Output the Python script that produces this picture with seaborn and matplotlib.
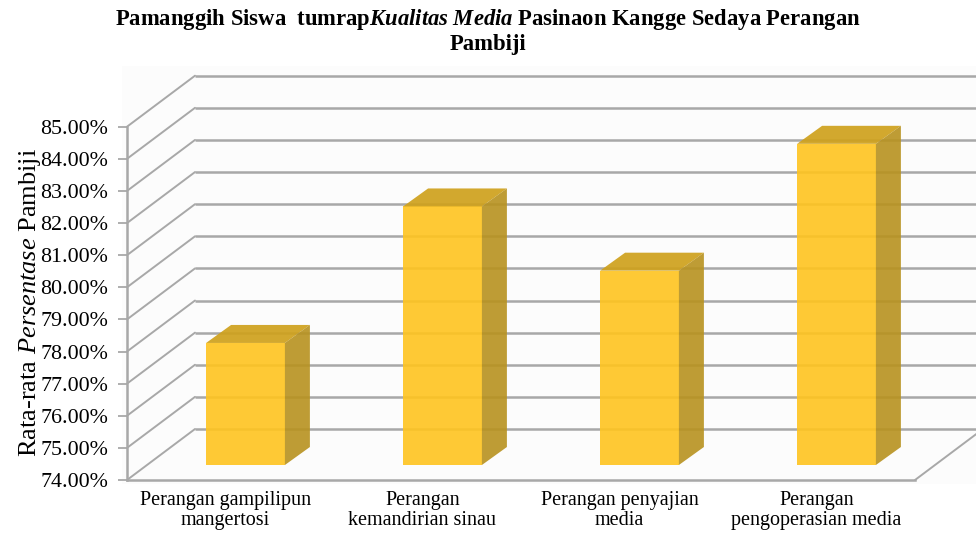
import matplotlib
matplotlib.use("Agg")
import matplotlib.pyplot as plt
import matplotlib.transforms as mtrans
from matplotlib.patches import Polygon, Rectangle
import numpy as np
import pandas as pd
import seaborn as sns

# data
categories = [
    "Perangan gampilipun\nmangertosi",
    "Perangan\nkemandirian sinau",
    "Perangan penyajian\nmedia",
    "Perangan\npengoperasian media",
]
scores = [77.8, 82.05, 80.05, 84.0]
y_ticks = list(range(74, 86))
y_tick_labels = [f"{t:.2f}%" for t in y_ticks]

FRONT = "#FFC41F"
TOP = "#CFA11C"
SIDE = "#B8921F"
GRID = "#A8A8A8"

# fake depth offsets in pixels (dpi 100, so dots == px)
WALL_DX, WALL_DY = 68, 51     # back wall relative to the front axis
BAR_DX, BAR_DY = 20, 15       # front face of the bars
DEPTH_DX, DEPTH_DY = 25, 18   # bar depth

sns.set_theme(style="white")
plt.rcParams["font.family"] = ["Liberation Serif", "DejaVu Serif"]
plt.rcParams["text.color"] = "black"
plt.rcParams["mathtext.fontset"] = "custom"
plt.rcParams["mathtext.rm"] = "Liberation Serif"
plt.rcParams["mathtext.it"] = "Liberation Serif:italic"
plt.rcParams["mathtext.bf"] = "Liberation Serif:bold"
plt.rcParams["mathtext.bfit"] = "Liberation Serif:italic:bold"

fig = plt.figure(figsize=(9.76, 5.34), dpi=100)
ax = fig.add_axes([127 / 976, 54 / 534, 788 / 976, 353.3 / 534])

df = pd.DataFrame({"category": categories, "score": scores})
sns.barplot(data=df, x="category", y="score", color=FRONT, width=0.4,
            saturation=1, ax=ax, zorder=3)
ax.set_xlim(-0.5, 3.5)
ax.set_ylim(74, 85)

wall_tr = ax.transData + mtrans.Affine2D().translate(WALL_DX, WALL_DY)
bar_tr = ax.transData + mtrans.Affine2D().translate(BAR_DX, BAR_DY)
ident = mtrans.IdentityTransform()
ymin = ax.get_ylim()[0]

# faint plot-area fill behind everything
ax.patch.set_visible(False)
ax.add_patch(Rectangle((122 / 976, 50 / 534), 854 / 976, 418 / 534,
                       transform=fig.transFigure, facecolor="#FCFCFC",
                       edgecolor="none", zorder=0, clip_on=False))

# back wall gridlines + diagonals on the side wall
ax.hlines(y_ticks, -0.5, 4.2, transform=wall_tr, colors=GRID, lw=1.8,
          clip_on=False, zorder=1)
for t in y_ticks:
    p0 = ax.transData.transform((-0.5, t))
    p1 = p0 + np.array([WALL_DX, WALL_DY])
    ax.plot([p0[0], p1[0]], [p0[1], p1[1]], color=GRID, lw=1.4,
            transform=ident, clip_on=False, zorder=1)
# right edge of the floor
p0 = ax.transData.transform((3.5, ymin))
p1 = p0 + np.array([WALL_DX, WALL_DY])
ax.plot([p0[0], p1[0]], [p0[1], p1[1]], color=GRID, lw=1.4,
        transform=ident, clip_on=False, zorder=1)

# turn the flat bars into boxes
d = np.array([DEPTH_DX, DEPTH_DY])
bars = [p for p in ax.patches if p.get_zorder() == 3]
for p in bars:
    x0, w, v = p.get_x(), p.get_width(), p.get_height()
    p.set_y(ymin)
    p.set_height(v - ymin)
    p.set_transform(bar_tr)
    p.set_clip_on(False)
    p.set_alpha(0.9)
    p.set_linewidth(0)
    a = bar_tr.transform((x0, v))
    b = bar_tr.transform((x0 + w, v))
    c = bar_tr.transform((x0 + w, ymin))
    ax.add_patch(Polygon([a, b, b + d, a + d], closed=True, facecolor=TOP,
                         alpha=0.92, lw=0, transform=ident, clip_on=False, zorder=3))
    ax.add_patch(Polygon([b, b + d, c + d, c], closed=True, facecolor=SIDE,
                         alpha=0.9, lw=0, transform=ident, clip_on=False, zorder=3))

ax.set_xlim(-0.5, 3.5)
ax.set_ylim(74, 85)
ax.set_yticks(y_ticks)
ax.set_yticklabels(y_tick_labels)
ax.set_xlabel("")
ax.set_ylabel("")
sns.despine(ax=ax, top=True, right=True)
for side in ("left", "bottom"):
    ax.spines[side].set_color(GRID)
    ax.spines[side].set_linewidth(1.8)
    ax.spines[side].set_zorder(2)
ax.tick_params(axis="y", left=True, length=6.5, width=1.3, color=GRID,
               labelsize=15.8, pad=7, labelcolor="black")
ax.tick_params(axis="x", bottom=False, labelsize=14.5, pad=2, labelcolor="black")
for lbl in ax.get_xticklabels():
    lbl.set_linespacing(1.05)

fig.text(30 / 976, 1 - 302 / 534, r"Rata-rata $\mathit{Persentase}$ Pambiji",
         rotation=90, ha="center", va="center", fontsize=19)
fig.text(0.5, 1 - 7 / 534,
         "Pamanggih Siswa  tumrap$\\mathbfit{Kualitas\\ Media}$ Pasinaon Kangge Sedaya Perangan\nPambiji",
         ha="center", va="top", fontsize=16.3, fontweight="bold", linespacing=1.12)

fig.savefig("out.png", dpi=100)
plt.close(fig)
